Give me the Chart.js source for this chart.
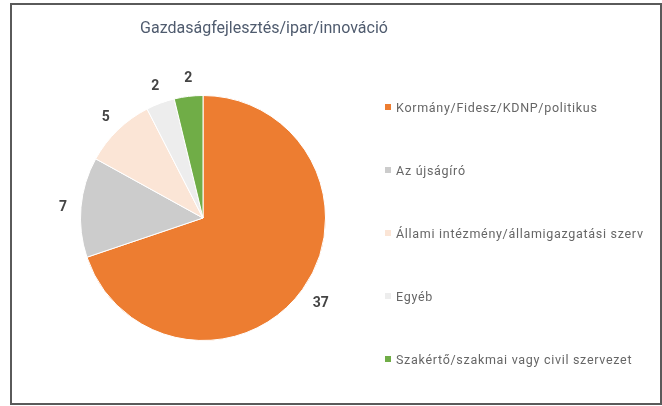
<!DOCTYPE html>
<html>
<head>
<meta charset="utf-8">
<script src="https://cdn.jsdelivr.net/npm/chart.js@4"></script>
<style>
  body { margin: 0; background: #fff; }
  #wrap { position: relative; width: 662px; height: 406px; }
  #frame { position: absolute; left: 10px; top: 3px; width: 648px; height: 398px; border: 2px solid #5a5a5a; }
  #myChart { position: absolute; left: 0; top: 0; }
  #title { position: absolute; left: 64px; width: 400px; top: 18px; text-align: center; font-family: Roboto, sans-serif; font-size: 16px; color: #4f5b6e; white-space: nowrap; }
  #legend { position: absolute; left: 385px; top: 0; font-family: Roboto, sans-serif; font-size: 12.5px; color: #666; }
  .item { position: absolute; left: 0; white-space: nowrap; display: flex; align-items: center; height: 14px; letter-spacing: 0.7px; }
  .box { width: 6px; height: 6px; margin-right: 5px; }
</style>
</head>
<body>
<div id="wrap">
  <div id="frame"></div>
  <canvas id="myChart" width="662" height="406"></canvas>
  <div id="title">Gazdaságfejlesztés/ipar/innováció</div>
  <div id="legend"></div>
</div>
<script>
const labels = [
  "Kormány/Fidesz/KDNP/politikus",
  "Az újságíró",
  "Állami intézmény/államigazgatási szerv",
  "Egyéb",
  "Szakértő/szakmai vagy civil szervezet"
];
const values = [37, 7, 5, 2, 2];
const colors = ["#ed7d31", "#cccccc", "#fbe5d6", "#ededed", "#70ad47"];

// numbers outside the slices
const outsideLabels = {
  id: "outsideLabels",
  afterDatasetsDraw(chart) {
    const ctx = chart.ctx;
    const arcs = chart.getDatasetMeta(0).data;
    ctx.save();
    ctx.font = "bold 14px Roboto, sans-serif";
    ctx.fillStyle = "#444444";
    ctx.textAlign = "center";
    ctx.textBaseline = "middle";
    arcs.forEach((arc, i) => {
      const mid = (arc.startAngle + arc.endAngle) / 2;
      const r = arc.outerRadius + 20;
      ctx.fillText(values[i], arc.x + Math.cos(mid) * r + 2, arc.y + Math.sin(mid) * r + 2);
    });
    ctx.restore();
  }
};

const ctx = document.getElementById("myChart").getContext("2d");
const myChart = new Chart(ctx, {
  type: "pie",
  data: {
    labels: labels,
    datasets: [{
      data: values,
      backgroundColor: colors,
      borderColor: "#ffffff",
      borderWidth: 1
    }]
  },
  options: {
    responsive: false,
    animation: false,
    layout: {
      padding: { top: 95, bottom: 65, left: 31, right: 287 }
    },
    plugins: {
      legend: { display: false },
      tooltip: { enabled: false },
      title: { display: false }
    }
  },
  plugins: [outsideLabels]
});

const legendContainer = document.getElementById("legend");
labels.forEach((label, index) => {
  const el = document.createElement("div");
  el.classList.add("item");
  el.style.top = (100 + index * 63) + "px";
  const box = document.createElement("span");
  box.classList.add("box");
  box.style.background = colors[index];
  el.appendChild(box);
  el.appendChild(document.createTextNode(label));
  legendContainer.appendChild(el);
});
</script>
</body>
</html>
